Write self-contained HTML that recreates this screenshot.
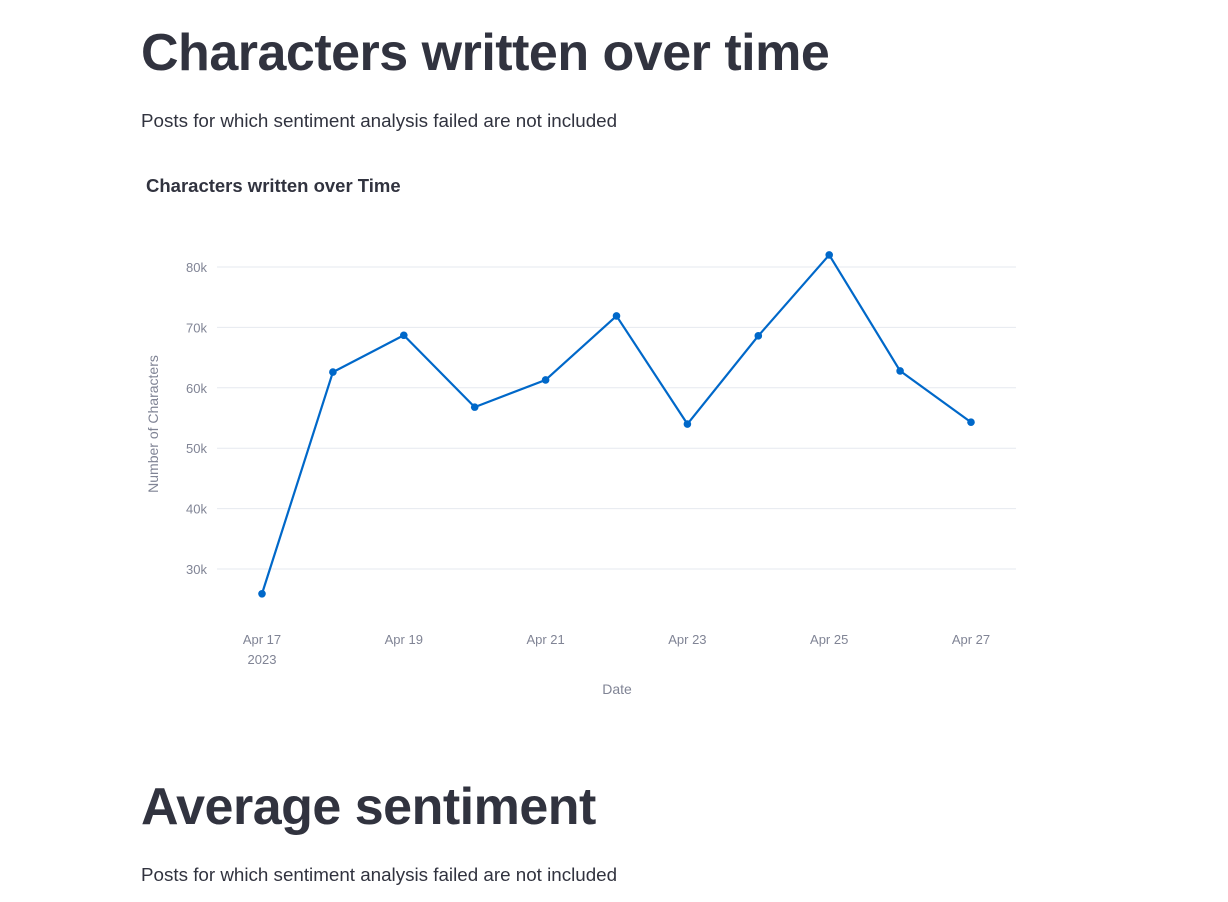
<!DOCTYPE html>
<html><head><meta charset="utf-8"><style>
html,body{margin:0;padding:0;background:#fff;width:1228px;height:902px;overflow:hidden;font-family:"Liberation Sans",sans-serif;color:#31333f}
h1{position:absolute;left:141px;margin:0;font-weight:bold;font-size:52px;letter-spacing:-0.5px;line-height:1;white-space:nowrap}
p{position:absolute;left:141px;margin:0;font-size:18.8px;white-space:nowrap}
svg{position:absolute;left:0;top:0}
</style></head><body>
<h1 style="top:27px">Characters written over time</h1>
<p style="top:110px">Posts for which sentiment analysis failed are not included</p>
<svg id="chart" width="1228" height="720">
<text x="146" y="192" font-size="18.5" font-weight="bold" fill="#31333f">Characters written over Time</text>
<text transform="translate(158,424) rotate(-90)" text-anchor="middle" font-size="14" fill="#808495">Number of Characters</text>
<text x="617" y="694" text-anchor="middle" font-size="14" fill="#808495">Date</text>
<g id="grid"></g><g id="marks"></g>
</svg>
<h1 style="top:781px">Average sentiment</h1>
<p style="top:864px">Posts for which sentiment analysis failed are not included</p>
<script>
const dayLabels = [17,18,19,20,21,22,23,24,25,26,27];
const charCounts = [25.9,62.6,68.7,56.8,61.3,71.9,54.0,68.6,82.0,62.8,54.3];
const yTicks = [30,40,50,60,70,80];
const xTickDays = [17,19,21,23,25,27];
const NS="http://www.w3.org/2000/svg";
const x=d=>262+(d-17)*70.9;
const y=v=>569-(v-30)*6.04;
const grid=document.getElementById('grid'), marks=document.getElementById('marks');
function mk(t,a,p){const e=document.createElementNS(NS,t);for(const k in a)e.setAttribute(k,a[k]);p.appendChild(e);return e;}
yTicks.forEach(v=>{
 const l=mk('line',{x1:217,x2:1016,y1:y(v),y2:y(v),stroke:'#e6e9ef','stroke-width':1},grid);
 
 
 const t=mk('text',{x:207,y:y(v)+5,'text-anchor':'end','font-size':13,fill:'#808495'},grid);
 t.textContent=v+'k';
 
 
});
xTickDays.forEach(d=>{
 const t=mk('text',{x:x(d),y:644,'text-anchor':'middle','font-size':13,fill:'#808495'},grid);
 t.textContent='Apr '+d;
 
 
});
const yr=mk('text',{x:x(17),y:664,'text-anchor':'middle','font-size':13,fill:'#808495'},grid);
yr.textContent='2023';


const pl=mk('polyline',{points:dayLabels.map((d,i)=>x(d)+','+y(charCounts[i])).join(' '),fill:'none',stroke:'#0068c9','stroke-width':2.2,'stroke-linejoin':'round'},marks);


dayLabels.forEach((d,i)=>{
 const c=mk('circle',{cx:x(d),cy:y(charCounts[i]),r:3.8,fill:'#0068c9'},marks);
 
 
});
</script>
</body></html>
